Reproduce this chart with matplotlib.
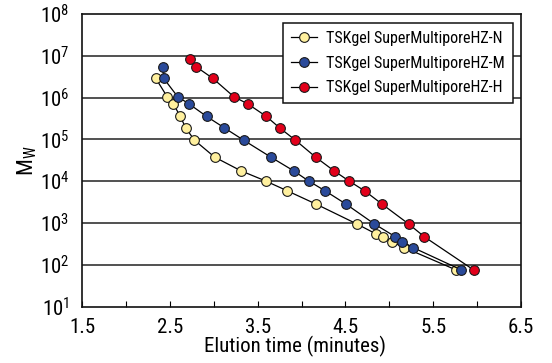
import numpy as np
import matplotlib
matplotlib.use("Agg")
import matplotlib.pyplot as plt
from matplotlib.ticker import FixedLocator, NullFormatter

plt.rcParams['font.family'] = ['Roboto Condensed', 'DejaVu Sans']

# Calibration data: elution time (min) vs. molecular weight
time_n = [2.34, 2.47, 2.54, 2.62, 2.68, 2.78, 3.01, 3.31, 3.59, 3.84, 4.17,
          4.63, 4.85, 4.93, 5.03, 5.17, 5.76]
mw_n = [2.89e6, 1.05e6, 7.06e5, 3.55e5, 1.90e5, 9.64e4, 3.79e4, 1.78e4, 1.02e4,
        5.89e3, 2.82e3, 9.55e2, 5.50e2, 4.70e2, 3.60e2, 2.60e2, 76]

time_m = [2.42, 2.43, 2.59, 2.72, 2.92, 3.12, 3.34, 3.65, 3.91, 4.08, 4.27,
          4.51, 4.83, 5.07, 5.15, 5.27, 5.82]
mw_m = [5.48e6, 2.89e6, 1.05e6, 7.06e5, 3.55e5, 1.90e5, 9.64e4, 3.79e4, 1.78e4,
        1.02e4, 5.89e3, 2.82e3, 9.55e2, 4.70e2, 3.60e2, 2.60e2, 76]

time_h = [2.73, 2.80, 2.99, 3.23, 3.39, 3.60, 3.75, 3.93, 4.16, 4.37, 4.54,
          4.72, 4.92, 5.22, 5.40, 5.96]
mw_h = [8.42e6, 5.48e6, 2.89e6, 1.05e6, 7.06e5, 3.55e5, 1.90e5, 9.64e4, 3.79e4,
        1.78e4, 1.02e4, 5.89e3, 2.82e3, 9.55e2, 4.70e2, 76]

labels = ["TSKgel SuperMultiporeHZ-N", "TSKgel SuperMultiporeHZ-M",
          "TSKgel SuperMultiporeHZ-H"]
colors = ["#FFF09E", "#2A4A9A", "#E2001A"]

x_ticks = [1.5, 2.5, 3.5, 4.5, 5.5, 6.5]
y_exps = [1, 2, 3, 4, 5, 6, 7, 8]

fig = plt.figure(figsize=(5.52, 3.63), dpi=100)
ax = fig.add_axes([0.1486, 0.155, 0.7952, 0.8064])

for t, mw, c, lab in zip([time_n, time_m, time_h], [mw_n, mw_m, mw_h], colors, labels):
    ax.plot(t, mw, color="black", lw=0.9, marker="o", ms=7, mfc=c,
            mec="#1a1a1a", mew=0.8, label=lab, zorder=3)

ax.set_yscale("log")
ax.set_xlim(1.5, 6.5)
ax.set_ylim(10, 1e8)

# decade gridlines
for e in y_exps[1:-1]:
    ax.axhline(10.0 ** e, color="#222222", lw=1.1, zorder=1)

ax.xaxis.set_major_locator(FixedLocator(x_ticks))
ax.xaxis.set_minor_locator(FixedLocator(np.arange(1.5, 6.51, 0.5)))
ax.xaxis.set_minor_formatter(NullFormatter())
ax.set_xticklabels([f"{v:.1f}" for v in x_ticks])
ax.tick_params(axis="x", which="both", direction="in", length=4, width=0.8,
               labelsize=15, pad=8)

ax.yaxis.set_major_locator(FixedLocator([10.0 ** e for e in y_exps]))
ax.yaxis.set_minor_locator(FixedLocator([]))
ax.set_yticklabels([rf"$\mathregular{{10^{{{e}}}}}$" for e in y_exps])
ax.tick_params(axis="y", which="both", length=0, labelsize=15, pad=9)

for s in ax.spines.values():
    s.set_linewidth(1.2)
    s.set_color("#111111")

ax.set_xlabel("Elution time (minutes)", fontsize=15, labelpad=0)
ax.xaxis.set_label_coords(0.485, -0.098, transform=ax.transAxes)
ax.xaxis.label.set_va("top")
ax.set_ylabel(r"$\mathregular{M_W}$", fontsize=16, labelpad=1)

leg = ax.legend(loc="upper right", bbox_to_anchor=(1 - 8.3 / 439, 1 - 8.7 / 293),
                fontsize=11.5, frameon=True, fancybox=False, borderaxespad=0,
                handlelength=1.65, handletextpad=0.55, labelspacing=0.62,
                borderpad=0.5)
leg.get_frame().set_edgecolor("#111111")
leg.get_frame().set_linewidth(1.1)
leg.get_frame().set_alpha(1)

fig.savefig("out.png", dpi=100)
